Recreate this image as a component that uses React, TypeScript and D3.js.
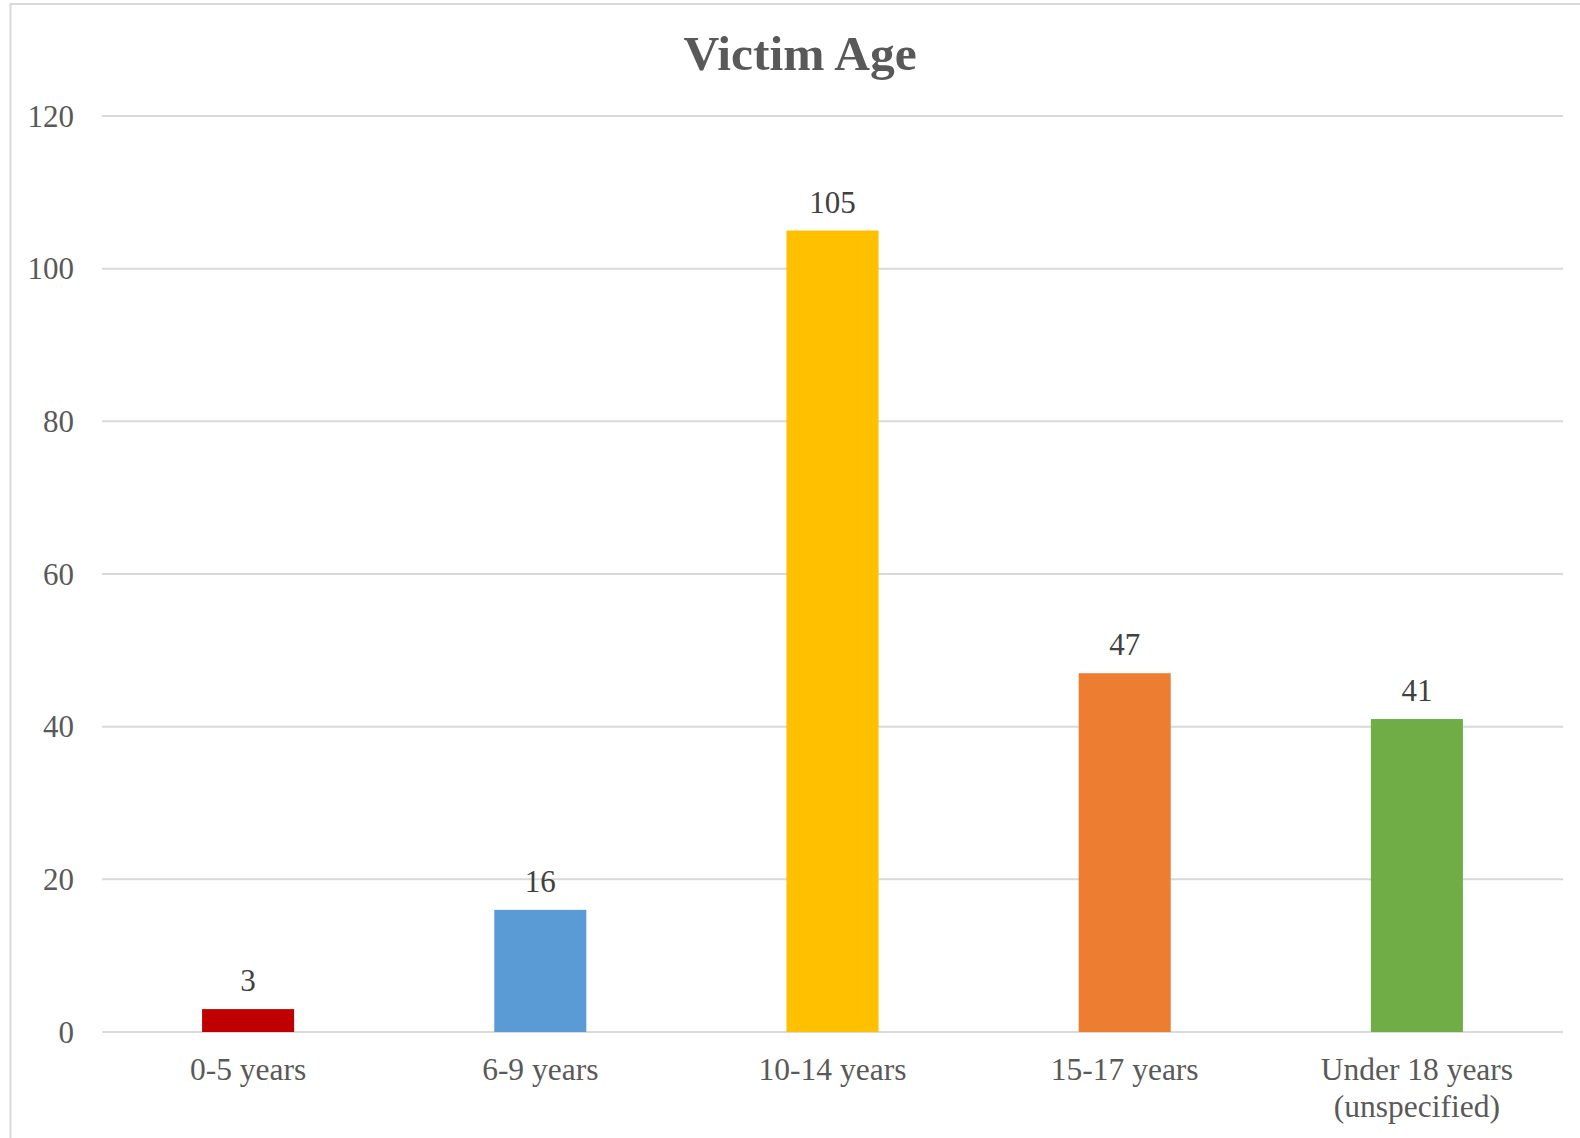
import React, { useRef, useEffect } from "react";
import * as d3 from "d3";

const categories = ["0-5 years", "6-9 years", "10-14 years", "15-17 years", "Under 18 years\n(unspecified)"];
const values = [3, 16, 105, 47, 41];
const barColors = ["#C00000", "#5B9BD5", "#FFC000", "#ED7D31", "#70AD47"];
const yTicks = [0, 20, 40, 60, 80, 100, 120];

const App = () => {
  const wrapper = useRef<HTMLDivElement>(null);
  const width = 1580;
  const height = 1138;
  const left = 102;
  const right = 1563;
  const top = 116;
  const bottom = 1032;
  const font = "'Liberation Serif', 'Times New Roman', serif";

  useEffect(() => {
    document.body.style.margin = "0";
    d3.select(wrapper.current).selectAll("svg").remove();

    const svg = d3
      .select(wrapper.current)
      .append("svg")
      .attr("width", width)
      .attr("height", height)
      .style("display", "block")
      .style("background", "#fff");

    // chart area border
    svg
      .append("rect")
      .attr("x", 10.5)
      .attr("y", 4)
      .attr("width", 1700)
      .attr("height", 1300)
      .attr("fill", "none")
      .attr("stroke", "#D9D9D9")
      .attr("stroke-width", 2);

    const x = d3
      .scaleBand()
      .domain(categories)
      .range([left, right])
      .paddingInner(0.685)
      .paddingOuter(0.3425);

    const y = d3.scaleLinear().domain([0, 120]).range([bottom, top]);

    // gridlines
    svg
      .selectAll("line.grid")
      .data(yTicks)
      .enter()
      .append("line")
      .attr("class", "grid")
      .attr("x1", left)
      .attr("x2", right)
      .attr("y1", (d) => y(d))
      .attr("y2", (d) => y(d))
      .attr("stroke", "#D9D9D9")
      .attr("stroke-width", 2);

    // y tick labels
    svg
      .selectAll("text.ytick")
      .data(yTicks)
      .enter()
      .append("text")
      .attr("class", "ytick")
      .attr("x", 74)
      .attr("y", (d) => y(d) + 10.5)
      .attr("text-anchor", "end")
      .attr("font-family", font)
      .attr("font-size", 31)
      .attr("fill", "#595959")
      .text((d) => d);

    // bars
    svg
      .selectAll("rect.bar")
      .data(values)
      .enter()
      .append("rect")
      .attr("class", "bar")
      .attr("x", (d, i) => x(categories[i]) as number)
      .attr("width", x.bandwidth())
      .attr("y", (d) => y(d))
      .attr("height", (d) => y(0) - y(d))
      .attr("fill", (d, i) => barColors[i]);

    // value labels
    svg
      .selectAll("text.value")
      .data(values)
      .enter()
      .append("text")
      .attr("class", "value")
      .attr("x", (d, i) => (x(categories[i]) as number) + x.bandwidth() / 2)
      .attr("y", (d) => y(d) - 18)
      .attr("text-anchor", "middle")
      .attr("font-family", font)
      .attr("font-size", 31)
      .attr("fill", "#404040")
      .text((d) => d);

    // category labels
    const cat = svg
      .selectAll("text.cat")
      .data(categories)
      .enter()
      .append("text")
      .attr("class", "cat")
      .attr("text-anchor", "middle")
      .attr("font-family", font)
      .attr("font-size", 31.5)
      .attr("fill", "#595959");

    cat
      .selectAll("tspan")
      .data((d) => d.split("\n").map((t) => ({ t, c: d })))
      .enter()
      .append("tspan")
      .attr("x", (d) => (x(d.c) as number) + x.bandwidth() / 2)
      .attr("y", (d, i) => 1080 + i * 37)
      .text((d) => d.t);

    // title
    svg
      .append("text")
      .attr("x", 800)
      .attr("y", 70)
      .attr("text-anchor", "middle")
      .attr("font-family", font)
      .attr("font-size", 49.5)
      .attr("font-weight", "bold")
      .attr("fill", "#595959")
      .text("Victim Age");
  }, []);

  return <div ref={wrapper}></div>;
};

export default App;
